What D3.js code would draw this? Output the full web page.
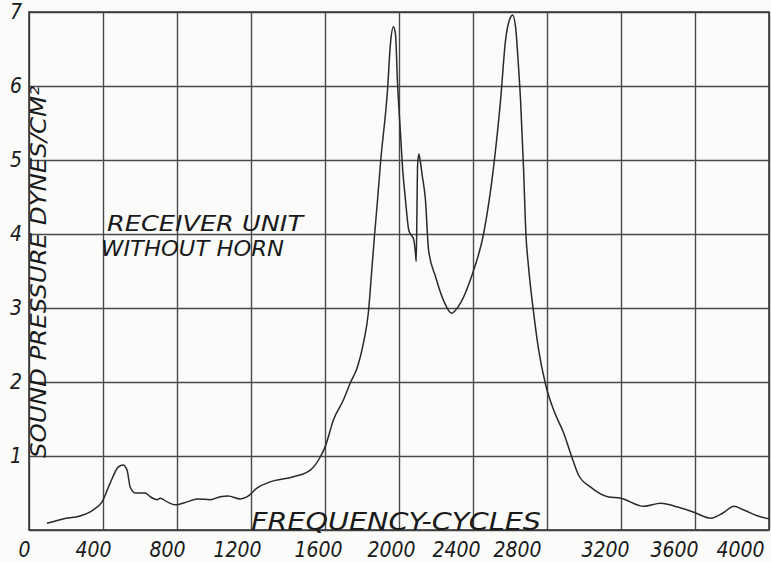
<!DOCTYPE html>
<html>
<head>
<meta charset="utf-8">
<script src="https://cdn.jsdelivr.net/npm/d3@7"></script>
<style>
  html, body { margin: 0; padding: 0; background: #fbfbfa; }
  svg { display: block; }
  .lbl { font-family: "Liberation Sans Narrow", "DejaVu Sans Condensed", "DejaVu Sans", sans-serif; font-style: italic; fill: #1a1a1a; }
</style>
</head>
<body>
<div id="chart"></div>
<script>
'use strict';

// frequency (cycles) and sound pressure (dynes/cm2)
var freq = [97, 184, 276, 346, 395, 438, 482, 509, 530, 547, 574, 628, 655, 693, 709, 747, 790, 855, 909, 980,
    1034, 1077, 1142, 1180, 1234, 1304, 1429, 1521, 1575, 1600, 1646, 1700, 1737, 1775, 1808, 1835, 1851, 1867,
    1884, 1900, 1938, 1954, 1970, 1981, 1992, 2008, 2019, 2035, 2053, 2080, 2089, 2093, 2097, 2100, 2107, 2114,
    2125, 2143, 2160, 2198, 2241, 2284, 2333, 2398, 2457, 2511, 2549, 2576, 2603, 2614, 2630, 2646, 2657, 2673,
    2686, 2700, 2727, 2755, 2793, 2836, 2890, 2939, 2971, 3036, 3128, 3199, 3323, 3415, 3507, 3594, 3686, 3751,
    3810, 3864, 3940, 4000];
var pressure = [0.09, 0.15, 0.19, 0.27, 0.38, 0.63, 0.85, 0.88, 0.81, 0.58, 0.50, 0.50, 0.45, 0.41, 0.43, 0.38, 0.34, 0.38, 0.42, 0.41,
    0.45, 0.46, 0.42, 0.45, 0.57, 0.65, 0.72, 0.81, 0.99, 1.12, 1.49, 1.76, 1.99, 2.20, 2.53, 2.95, 3.45, 3.96,
    4.46, 4.96, 5.95, 6.58, 6.80, 6.70, 6.04, 5.36, 4.90, 4.46, 4.05, 3.92, 3.74, 3.63, 4.30, 4.90, 5.08, 5.00,
    4.80, 4.46, 3.78, 3.42, 3.10, 2.93, 3.07, 3.47, 4.00, 4.90, 5.81, 6.62, 6.93, 6.96, 6.80, 6.26, 5.81, 4.90,
    4.00, 3.56, 2.95, 2.43, 1.96, 1.62, 1.31, 0.95, 0.74, 0.58, 0.45, 0.43, 0.32, 0.36, 0.31, 0.24, 0.16, 0.23,
    0.32, 0.27, 0.19, 0.15];

var xTicks = [0, 400, 800, 1200, 1600, 2000, 2400, 2800, 3200, 3600, 4000];
var yTicks = [0, 1, 2, 3, 4, 5, 6, 7];

(function() {
    var width = 771, height = 562;
    var pLeft = 29, pRight = 769, pTop = 12, pBottom = 530;
    // hand-lettered labels sit a little left of their grid line
    var nudge = {0: -5, 400: -10, 800: -10, 1200: -14, 1600: -7, 2000: -8, 2400: -17, 2800: -30, 3200: -16, 3600: -21, 4000: -29};

    var svg = d3.select('#chart').append('svg')
        .attr('width', width)
        .attr('height', height);

    var x = d3.scaleLinear().domain([0, 4000]).range([pLeft, pRight]);
    var y = d3.scaleLinear().domain([0, 7]).range([pBottom, pTop]);

    // grid via axes
    var gx = svg.append('g')
        .attr('transform', 'translate(0,' + pBottom + ')')
        .call(d3.axisBottom(x).tickValues(xTicks).tickSize(-(pBottom - pTop)).tickFormat(d3.format('d')));
    gx.select('.domain').remove();
    gx.selectAll('line').attr('stroke', '#4a4a4a').attr('stroke-width', 1.4);
    gx.selectAll('text')
        .attr('class', 'lbl')
        .attr('font-size', 21)
        .attr('y', 12)
        .attr('dx', function(d) { return nudge[d] || -10; })
        .attr('fill', '#1a1a1a');

    var gy = svg.append('g')
        .attr('transform', 'translate(' + pLeft + ',0)')
        .call(d3.axisLeft(y).tickValues(yTicks).tickSize(-(pRight - pLeft)));
    gy.select('.domain').remove();
    gy.selectAll('line').attr('stroke', '#4a4a4a').attr('stroke-width', 1.4);
    gy.selectAll('text')
        .attr('class', 'lbl')
        .attr('font-size', 21)
        .attr('x', -13)
        .attr('text-anchor', 'middle')
        .attr('fill', '#1a1a1a')
        .text(function(d) { return d === 0 ? '' : d; });

    // frame
    svg.append('rect')
        .attr('x', pLeft).attr('y', pTop)
        .attr('width', pRight - pLeft).attr('height', pBottom - pTop)
        .attr('fill', 'none').attr('stroke', '#3a3a3a').attr('stroke-width', 1.6);

    // response curve
    var line = d3.line()
        .curve(d3.curveMonotoneX)
        .x(function(d) { return x(d[0]); })
        .y(function(d) { return y(d[1]); });

    svg.append('path')
        .datum(d3.zip(freq, pressure))
        .attr('d', line)
        .attr('fill', 'none')
        .attr('stroke', '#2a2a2a')
        .attr('stroke-width', 1.5)
        .attr('stroke-linejoin', 'round');

    // titles
    svg.append('text')
        .attr('class', 'lbl')
        .attr('transform', 'translate(46,458) rotate(-90)')
        .attr('font-size', 22)
        .attr('textLength', 372)
        .attr('lengthAdjust', 'spacingAndGlyphs')
        .text('SOUND PRESSURE DYNES/CM²');

    svg.append('text')
        .attr('class', 'lbl')
        .attr('x', 107).attr('y', 231)
        .attr('font-size', 21)
        .attr('textLength', 196)
        .attr('lengthAdjust', 'spacingAndGlyphs')
        .text('RECEIVER UNIT');

    svg.append('text')
        .attr('class', 'lbl')
        .attr('x', 101).attr('y', 256)
        .attr('font-size', 21)
        .attr('textLength', 183)
        .attr('lengthAdjust', 'spacingAndGlyphs')
        .text('WITHOUT HORN');

    svg.append('text')
        .attr('class', 'lbl')
        .attr('x', 251).attr('y', 530)
        .attr('font-size', 24)
        .attr('textLength', 290)
        .attr('lengthAdjust', 'spacingAndGlyphs')
        .text('FREQUENCY-CYCLES');
})();
</script>
</body>
</html>
